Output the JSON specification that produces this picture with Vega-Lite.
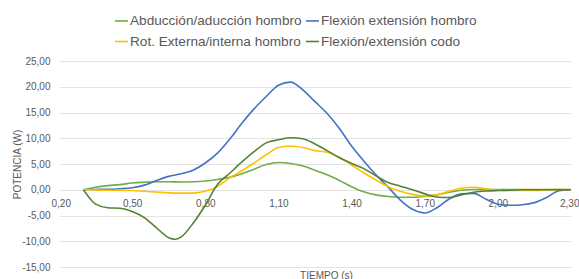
{
  "$schema": "https://vega.github.io/schema/vega-lite/v6.json",
  "width": 512,
  "height": 206,
  "autosize": "none",
  "padding": {"left": 59, "top": 61, "right": 8, "bottom": 12},
  "background": "white",
  "config": {
    "view": {"stroke": null},
    "font": "Liberation Sans"
  },
  "data": {"values": [
    {"t":0.30,"s":"Abducción/aducción hombro","p":0},
    {"t":0.35,"s":"Abducción/aducción hombro","p":0.5},
    {"t":0.40,"s":"Abducción/aducción hombro","p":0.8},
    {"t":0.45,"s":"Abducción/aducción hombro","p":1.0},
    {"t":0.50,"s":"Abducción/aducción hombro","p":1.3},
    {"t":0.55,"s":"Abducción/aducción hombro","p":1.45},
    {"t":0.60,"s":"Abducción/aducción hombro","p":1.55},
    {"t":0.65,"s":"Abducción/aducción hombro","p":1.55},
    {"t":0.70,"s":"Abducción/aducción hombro","p":1.5},
    {"t":0.75,"s":"Abducción/aducción hombro","p":1.55},
    {"t":0.80,"s":"Abducción/aducción hombro","p":1.7},
    {"t":0.85,"s":"Abducción/aducción hombro","p":2.0},
    {"t":0.90,"s":"Abducción/aducción hombro","p":2.4},
    {"t":0.95,"s":"Abducción/aducción hombro","p":3.1},
    {"t":1.00,"s":"Abducción/aducción hombro","p":4.0},
    {"t":1.05,"s":"Abducción/aducción hombro","p":4.9},
    {"t":1.10,"s":"Abducción/aducción hombro","p":5.3},
    {"t":1.15,"s":"Abducción/aducción hombro","p":5.1},
    {"t":1.20,"s":"Abducción/aducción hombro","p":4.6},
    {"t":1.25,"s":"Abducción/aducción hombro","p":3.8},
    {"t":1.30,"s":"Abducción/aducción hombro","p":2.9},
    {"t":1.35,"s":"Abducción/aducción hombro","p":1.8},
    {"t":1.40,"s":"Abducción/aducción hombro","p":0.6},
    {"t":1.45,"s":"Abducción/aducción hombro","p":-0.4},
    {"t":1.50,"s":"Abducción/aducción hombro","p":-1.0},
    {"t":1.55,"s":"Abducción/aducción hombro","p":-1.3},
    {"t":1.60,"s":"Abducción/aducción hombro","p":-1.45},
    {"t":1.65,"s":"Abducción/aducción hombro","p":-1.45},
    {"t":1.70,"s":"Abducción/aducción hombro","p":-1.3},
    {"t":1.75,"s":"Abducción/aducción hombro","p":-1.0},
    {"t":1.80,"s":"Abducción/aducción hombro","p":-0.5},
    {"t":1.85,"s":"Abducción/aducción hombro","p":-0.1},
    {"t":1.90,"s":"Abducción/aducción hombro","p":0.05},
    {"t":1.95,"s":"Abducción/aducción hombro","p":0.05},
    {"t":2.00,"s":"Abducción/aducción hombro","p":0.05},
    {"t":2.05,"s":"Abducción/aducción hombro","p":0.05},
    {"t":2.10,"s":"Abducción/aducción hombro","p":0.05},
    {"t":2.15,"s":"Abducción/aducción hombro","p":0.05},
    {"t":2.20,"s":"Abducción/aducción hombro","p":0.05},
    {"t":2.25,"s":"Abducción/aducción hombro","p":0.05},
    {"t":2.30,"s":"Abducción/aducción hombro","p":0.05},

    {"t":0.30,"s":"Flexión extensión hombro","p":0},
    {"t":0.35,"s":"Flexión extensión hombro","p":0.05},
    {"t":0.40,"s":"Flexión extensión hombro","p":0.1},
    {"t":0.45,"s":"Flexión extensión hombro","p":0.2},
    {"t":0.50,"s":"Flexión extensión hombro","p":0.4},
    {"t":0.55,"s":"Flexión extensión hombro","p":0.9},
    {"t":0.60,"s":"Flexión extensión hombro","p":1.8},
    {"t":0.65,"s":"Flexión extensión hombro","p":2.6},
    {"t":0.70,"s":"Flexión extensión hombro","p":3.1},
    {"t":0.75,"s":"Flexión extensión hombro","p":3.8},
    {"t":0.80,"s":"Flexión extensión hombro","p":5.2},
    {"t":0.85,"s":"Flexión extensión hombro","p":7.1},
    {"t":0.90,"s":"Flexión extensión hombro","p":9.8},
    {"t":0.95,"s":"Flexión extensión hombro","p":12.9},
    {"t":1.00,"s":"Flexión extensión hombro","p":15.7},
    {"t":1.05,"s":"Flexión extensión hombro","p":18.1},
    {"t":1.10,"s":"Flexión extensión hombro","p":20.3},
    {"t":1.15,"s":"Flexión extensión hombro","p":20.9},
    {"t":1.20,"s":"Flexión extensión hombro","p":19.4},
    {"t":1.25,"s":"Flexión extensión hombro","p":17.1},
    {"t":1.30,"s":"Flexión extensión hombro","p":14.8},
    {"t":1.35,"s":"Flexión extensión hombro","p":11.9},
    {"t":1.40,"s":"Flexión extensión hombro","p":8.5},
    {"t":1.45,"s":"Flexión extensión hombro","p":5.6},
    {"t":1.50,"s":"Flexión extensión hombro","p":2.9},
    {"t":1.55,"s":"Flexión extensión hombro","p":0.5},
    {"t":1.60,"s":"Flexión extensión hombro","p":-2.0},
    {"t":1.65,"s":"Flexión extensión hombro","p":-3.8},
    {"t":1.70,"s":"Flexión extensión hombro","p":-4.5},
    {"t":1.75,"s":"Flexión extensión hombro","p":-3.5},
    {"t":1.80,"s":"Flexión extensión hombro","p":-1.8},
    {"t":1.85,"s":"Flexión extensión hombro","p":-0.8},
    {"t":1.90,"s":"Flexión extensión hombro","p":-0.7},
    {"t":1.95,"s":"Flexión extensión hombro","p":-1.8},
    {"t":2.00,"s":"Flexión extensión hombro","p":-2.8},
    {"t":2.05,"s":"Flexión extensión hombro","p":-3.0},
    {"t":2.10,"s":"Flexión extensión hombro","p":-2.9},
    {"t":2.15,"s":"Flexión extensión hombro","p":-2.5},
    {"t":2.20,"s":"Flexión extensión hombro","p":-1.5},
    {"t":2.25,"s":"Flexión extensión hombro","p":-0.2},
    {"t":2.30,"s":"Flexión extensión hombro","p":0},

    {"t":0.30,"s":"Rot. Externa/interna hombro","p":0},
    {"t":0.35,"s":"Rot. Externa/interna hombro","p":-0.05},
    {"t":0.40,"s":"Rot. Externa/interna hombro","p":-0.1},
    {"t":0.45,"s":"Rot. Externa/interna hombro","p":-0.1},
    {"t":0.50,"s":"Rot. Externa/interna hombro","p":-0.15},
    {"t":0.55,"s":"Rot. Externa/interna hombro","p":-0.3},
    {"t":0.60,"s":"Rot. Externa/interna hombro","p":-0.45},
    {"t":0.65,"s":"Rot. Externa/interna hombro","p":-0.6},
    {"t":0.70,"s":"Rot. Externa/interna hombro","p":-0.65},
    {"t":0.75,"s":"Rot. Externa/interna hombro","p":-0.65},
    {"t":0.80,"s":"Rot. Externa/interna hombro","p":-0.3},
    {"t":0.85,"s":"Rot. Externa/interna hombro","p":0.6},
    {"t":0.90,"s":"Rot. Externa/interna hombro","p":2.3},
    {"t":0.95,"s":"Rot. Externa/interna hombro","p":3.7},
    {"t":1.00,"s":"Rot. Externa/interna hombro","p":5.2},
    {"t":1.05,"s":"Rot. Externa/interna hombro","p":6.8},
    {"t":1.10,"s":"Rot. Externa/interna hombro","p":8.2},
    {"t":1.15,"s":"Rot. Externa/interna hombro","p":8.5},
    {"t":1.20,"s":"Rot. Externa/interna hombro","p":8.2},
    {"t":1.25,"s":"Rot. Externa/interna hombro","p":7.6},
    {"t":1.30,"s":"Rot. Externa/interna hombro","p":7.3},
    {"t":1.35,"s":"Rot. Externa/interna hombro","p":6.3},
    {"t":1.40,"s":"Rot. Externa/interna hombro","p":4.8},
    {"t":1.45,"s":"Rot. Externa/interna hombro","p":3.3},
    {"t":1.50,"s":"Rot. Externa/interna hombro","p":1.9},
    {"t":1.55,"s":"Rot. Externa/interna hombro","p":0.6},
    {"t":1.60,"s":"Rot. Externa/interna hombro","p":-0.3},
    {"t":1.65,"s":"Rot. Externa/interna hombro","p":-0.9},
    {"t":1.70,"s":"Rot. Externa/interna hombro","p":-1.2},
    {"t":1.75,"s":"Rot. Externa/interna hombro","p":-1.0},
    {"t":1.80,"s":"Rot. Externa/interna hombro","p":-0.3},
    {"t":1.85,"s":"Rot. Externa/interna hombro","p":0.3},
    {"t":1.90,"s":"Rot. Externa/interna hombro","p":0.5},
    {"t":1.95,"s":"Rot. Externa/interna hombro","p":0.2},
    {"t":2.00,"s":"Rot. Externa/interna hombro","p":-0.1},
    {"t":2.05,"s":"Rot. Externa/interna hombro","p":-0.15},
    {"t":2.10,"s":"Rot. Externa/interna hombro","p":-0.15},
    {"t":2.15,"s":"Rot. Externa/interna hombro","p":-0.15},
    {"t":2.20,"s":"Rot. Externa/interna hombro","p":-0.05},
    {"t":2.25,"s":"Rot. Externa/interna hombro","p":0.1},
    {"t":2.30,"s":"Rot. Externa/interna hombro","p":0},

    {"t":0.30,"s":"Flexión/extensión codo","p":0},
    {"t":0.325,"s":"Flexión/extensión codo","p":-1.6},
    {"t":0.35,"s":"Flexión/extensión codo","p":-2.8},
    {"t":0.40,"s":"Flexión/extensión codo","p":-3.5},
    {"t":0.45,"s":"Flexión/extensión codo","p":-3.6},
    {"t":0.50,"s":"Flexión/extensión codo","p":-4.2},
    {"t":0.55,"s":"Flexión/extensión codo","p":-5.4},
    {"t":0.60,"s":"Flexión/extensión codo","p":-7.4},
    {"t":0.65,"s":"Flexión/extensión codo","p":-9.3},
    {"t":0.675,"s":"Flexión/extensión codo","p":-9.6},
    {"t":0.70,"s":"Flexión/extensión codo","p":-9.2},
    {"t":0.75,"s":"Flexión/extensión codo","p":-6.5},
    {"t":0.80,"s":"Flexión/extensión codo","p":-3.0},
    {"t":0.85,"s":"Flexión/extensión codo","p":1.0},
    {"t":0.90,"s":"Flexión/extensión codo","p":3.2},
    {"t":0.95,"s":"Flexión/extensión codo","p":5.4},
    {"t":1.00,"s":"Flexión/extensión codo","p":7.4},
    {"t":1.05,"s":"Flexión/extensión codo","p":9.1},
    {"t":1.10,"s":"Flexión/extensión codo","p":9.7},
    {"t":1.15,"s":"Flexión/extensión codo","p":10.1},
    {"t":1.20,"s":"Flexión/extensión codo","p":9.9},
    {"t":1.25,"s":"Flexión/extensión codo","p":8.9},
    {"t":1.30,"s":"Flexión/extensión codo","p":7.6},
    {"t":1.35,"s":"Flexión/extensión codo","p":6.2},
    {"t":1.40,"s":"Flexión/extensión codo","p":5.1},
    {"t":1.45,"s":"Flexión/extensión codo","p":4.1},
    {"t":1.50,"s":"Flexión/extensión codo","p":2.7},
    {"t":1.55,"s":"Flexión/extensión codo","p":1.4},
    {"t":1.60,"s":"Flexión/extensión codo","p":0.7},
    {"t":1.65,"s":"Flexión/extensión codo","p":0.0},
    {"t":1.70,"s":"Flexión/extensión codo","p":-0.8},
    {"t":1.75,"s":"Flexión/extensión codo","p":-1.4},
    {"t":1.80,"s":"Flexión/extensión codo","p":-1.5},
    {"t":1.85,"s":"Flexión/extensión codo","p":-1.0},
    {"t":1.90,"s":"Flexión/extensión codo","p":-0.5},
    {"t":1.95,"s":"Flexión/extensión codo","p":-0.25},
    {"t":2.00,"s":"Flexión/extensión codo","p":-0.15},
    {"t":2.05,"s":"Flexión/extensión codo","p":-0.1},
    {"t":2.10,"s":"Flexión/extensión codo","p":0},
    {"t":2.15,"s":"Flexión/extensión codo","p":0},
    {"t":2.20,"s":"Flexión/extensión codo","p":0},
    {"t":2.25,"s":"Flexión/extensión codo","p":0},
    {"t":2.30,"s":"Flexión/extensión codo","p":0}
  ]},
  "mark": {"type": "line", "interpolate": "monotone", "strokeWidth": 1.6},
  "encoding": {
    "x": {
      "field": "t", "type": "quantitative",
      "scale": {"domain": [0.2, 2.3], "nice": false, "zero": false},
      "axis": {
        "values": [0.2, 0.5, 0.8, 1.1, 1.4, 1.7, 2.0, 2.3],
        "labelExpr": "replace(replace(format(datum.value, '.2f'), '.', ','), '\u2212', '-')",
        "offset": -77,
        "domain": false, "ticks": false, "grid": false,
        "labelPadding": 8, "labelFontSize": 10, "labelColor": "#595959",
        "labelFlush": true, "labelFlushOffset": 8, "labelOverlap": false,
        "title": "TIEMPO (s)", "titleFontSize": 10, "titleFontWeight": "normal",
        "titleColor": "#595959", "titleX": 267, "titleY": 85, "titleBaseline": "middle"
      }
    },
    "y": {
      "field": "p", "type": "quantitative",
      "scale": {"domain": [-15, 25], "nice": false},
      "axis": {
        "values": [-15, -10, -5, 0, 5, 10, 15, 20, 25],
        "labelExpr": "replace(replace(format(datum.value, '.2f'), '.', ','), '\u2212', '-')",
        "domain": false, "ticks": false,
        "gridColor": "#e3e3e3", "gridWidth": 1,
        "labelPadding": 9, "labelFontSize": 10, "labelColor": "#595959",
        "title": "POTENCIA (W)", "titleFontSize": 10, "titleFontWeight": "normal",
        "titleColor": "#595959", "titlePadding": -1
      }
    },
    "color": {
      "field": "s", "type": "nominal",
      "scale": {
        "domain": ["Abducción/aducción hombro", "Rot. Externa/interna hombro", "Flexión extensión hombro", "Flexión/extensión codo"],
        "range": ["#70AD47", "#FFC000", "#4472C4", "#548235"]
      },
      "legend": {
        "title": null, "orient": "none", "legendX": 55, "legendY": -48,
        "columns": 2, "columnPadding": 0, "rowPadding": 6,
        "symbolType": "stroke", "symbolSize": 169, "symbolStrokeWidth": 1.6,
        "labelFontSize": 13.6, "labelColor": "#595959", "labelOffset": 1,
        "labelLimit": 300
      }
    },
    "order": {"field": "t", "type": "quantitative"}
  }
}
